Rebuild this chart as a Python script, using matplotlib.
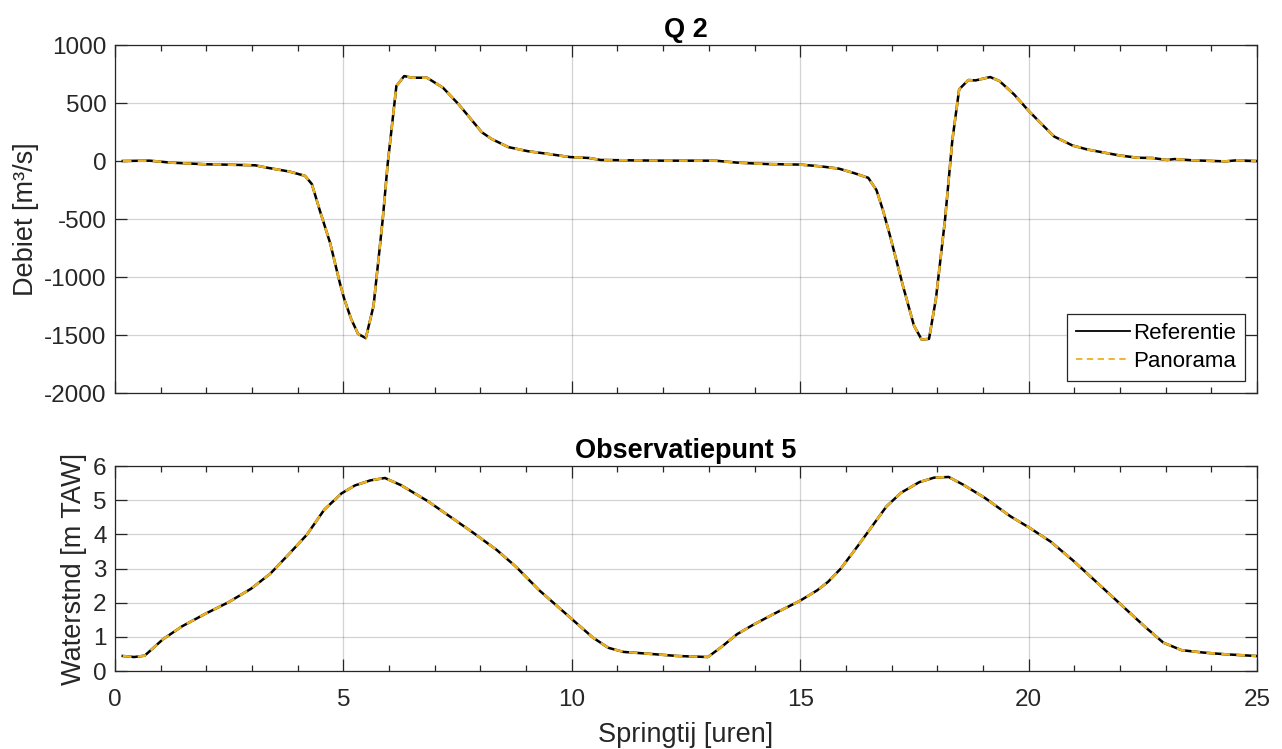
import matplotlib.pyplot as plt
from matplotlib.ticker import MultipleLocator

# tijdreeks debiet Q 2
t_q = [0.17, 0.5, 0.76, 1.22, 1.97, 2.39, 3.07, 3.32, 3.82, 4.16, 4.31, 4.48, 4.71,
       4.92, 5.02, 5.17, 5.32, 5.49, 5.66, 5.86, 5.97, 6.16, 6.33, 6.51, 6.83, 7.18,
       7.52, 8.03, 8.24, 8.61, 9.03, 9.45, 9.96, 10.38, 10.63, 11.22, 12.0, 13.14,
       13.62, 14.26, 15.0, 15.45, 15.85, 16.17, 16.49, 16.67, 16.81, 16.97, 17.25,
       17.49, 17.66, 17.82, 17.97, 18.17, 18.33, 18.48, 18.68, 18.84, 19.16, 19.36,
       19.68, 20.0, 20.32, 20.56, 20.96, 21.28, 21.67, 21.99, 22.39, 22.71, 23.03,
       23.19, 23.59, 24.31, 24.55, 24.98]
q_ref = [0, 2, 3, -14, -28, -31, -37, -57, -91, -128, -199, -422, -707,
         -1048, -1191, -1362, -1490, -1527, -1248, -507, -23, 647, 732, 718, 718, 632,
         490, 248, 191, 120, 85, 63, 34, 26, 9, 6, 3, 3,
         -14, -26, -31, -46, -66, -103, -145, -251, -422, -650, -1077,
         -1419, -1540, -1533, -1191, -507, 177, 618, 698, 695, 724, 690,
         575, 433, 305, 211, 134, 100, 71, 48, 28, 26, 9,
         17, 6, -3, 6, 0]
q_pan = [0, 2, 3, -14, -28, -31, -37, -57, -91, -128, -199, -422, -707,
         -1048, -1191, -1362, -1490, -1527, -1248, -507, -23, 647, 732, 718, 718, 632,
         490, 248, 191, 120, 85, 63, 34, 26, 9, 6, 3, 3,
         -14, -26, -31, -46, -66, -103, -145, -251, -422, -650, -1077,
         -1419, -1540, -1533, -1191, -507, 177, 618, 698, 695, 724, 690,
         575, 433, 305, 211, 134, 100, 71, 48, 28, 26, 9,
         17, 6, -3, 6, 0]

# waterstand observatiepunt 5
t_h = [0.17, 0.42, 0.65, 1.05, 1.47, 1.97, 2.48, 2.98, 3.40, 3.82, 4.20, 4.58, 4.96,
       5.25, 5.59, 5.91, 6.26, 6.85, 7.27, 7.86, 8.36, 8.78, 9.29, 9.96, 10.46,
       10.80, 11.13, 11.64, 12.31, 12.98, 13.30, 13.62, 13.94, 14.42, 15.0, 15.37,
       15.61, 15.89, 16.25, 16.57, 16.89, 17.21, 17.61, 17.93, 18.25, 18.56, 19.04,
       19.60, 20.0, 20.48, 20.96, 21.44, 22.0, 22.56, 22.95, 23.35, 23.83, 24.31, 24.98]
h_ref = [0.44, 0.41, 0.45, 0.93, 1.31, 1.67, 2.01, 2.41, 2.85, 3.44, 3.99, 4.72, 5.20,
         5.43, 5.58, 5.65, 5.44, 4.97, 4.58, 4.03, 3.54, 3.05, 2.36, 1.57, 0.98,
         0.68, 0.56, 0.51, 0.44, 0.41, 0.73, 1.08, 1.33, 1.67, 2.06, 2.36,
         2.61, 3.00, 3.64, 4.23, 4.82, 5.22, 5.53, 5.66, 5.68, 5.46, 5.07,
         4.53, 4.21, 3.79, 3.25, 2.66, 1.97, 1.28, 0.83, 0.61, 0.54, 0.49, 0.44]
h_pan = [0.44, 0.41, 0.45, 0.93, 1.31, 1.67, 2.01, 2.41, 2.85, 3.44, 3.99, 4.72, 5.20,
         5.43, 5.58, 5.65, 5.44, 4.97, 4.58, 4.03, 3.54, 3.05, 2.36, 1.57, 0.98,
         0.68, 0.56, 0.51, 0.44, 0.41, 0.73, 1.08, 1.33, 1.67, 2.06, 2.36,
         2.61, 3.00, 3.64, 4.23, 4.82, 5.22, 5.53, 5.66, 5.68, 5.46, 5.07,
         4.53, 4.21, 3.79, 3.25, 2.66, 1.97, 1.28, 0.83, 0.61, 0.54, 0.49, 0.44]

plt.rcParams['font.family'] = ['Liberation Sans', 'DejaVu Sans']
plt.rcParams['axes.unicode_minus'] = False
dark = '#262626'
orange = '#EDB120'

fig = plt.figure(figsize=(12.82, 7.49), dpi=100)
ax1 = fig.add_axes([0.0897, 0.4753, 0.8908, 0.4646])
ax2 = fig.add_axes([0.0897, 0.1041, 0.8908, 0.2737])


def style(ax):
    ax.set_xlim(0, 25)
    ax.xaxis.set_major_locator(MultipleLocator(5))
    ax.xaxis.set_minor_locator(MultipleLocator(1))
    ax.tick_params(which='both', direction='in', top=True, right=True,
                   colors=dark, labelsize=17.5, width=0.9)
    ax.tick_params(which='major', length=8.5)
    ax.tick_params(which='minor', length=4.5)
    ax.tick_params(axis='y', pad=6)
    ax.tick_params(axis='x', pad=13)
    ax.grid(True, which='major', color=dark, alpha=0.2, linewidth=0.9)
    ax.set_axisbelow(True)
    for s in ax.spines.values():
        s.set_color(dark)
        s.set_linewidth(0.9)


ax1.plot(t_q, q_ref, color='black', lw=1.8, label='Referentie')
ax1.plot(t_q, q_pan, color=orange, lw=1.8, ls=(0, (3.5, 2.5)), label='Panorama')
style(ax1)
ax1.set_ylim(-2000, 1000)
ax1.yaxis.set_major_locator(MultipleLocator(500))
ax1.tick_params(axis='x', labelbottom=False)
ax1.set_ylabel('Debiet [m³/s]', fontsize=19.5, color=dark)
ax1.set_title('Q 2', fontsize=19.5, fontweight='bold', pad=6)
leg = ax1.legend(loc='lower right', fontsize=16, fancybox=False, framealpha=1,
                 edgecolor=dark, borderaxespad=0.55, handlelength=2.4,
                 handletextpad=0.15, borderpad=0.4, labelspacing=0.3)
leg.get_frame().set_linewidth(0.9)
for line in leg.get_lines():
    line.set_linewidth(1.3)

ax2.plot(t_h, h_ref, color='black', lw=1.8)
ax2.plot(t_h, h_pan, color=orange, lw=1.8, ls=(0, (3.5, 2.5)))
style(ax2)
ax2.set_ylim(0, 6)
ax2.yaxis.set_major_locator(MultipleLocator(1))
ax2.set_ylabel('Waterstnd [m TAW]', fontsize=19.5, color=dark)
ax2.set_xlabel('Springtij [uren]', fontsize=19.5, color=dark, labelpad=8)
ax2.set_title('Observatiepunt 5', fontsize=19.5, fontweight='bold', pad=6)

fig.savefig('out.png', dpi=100)
